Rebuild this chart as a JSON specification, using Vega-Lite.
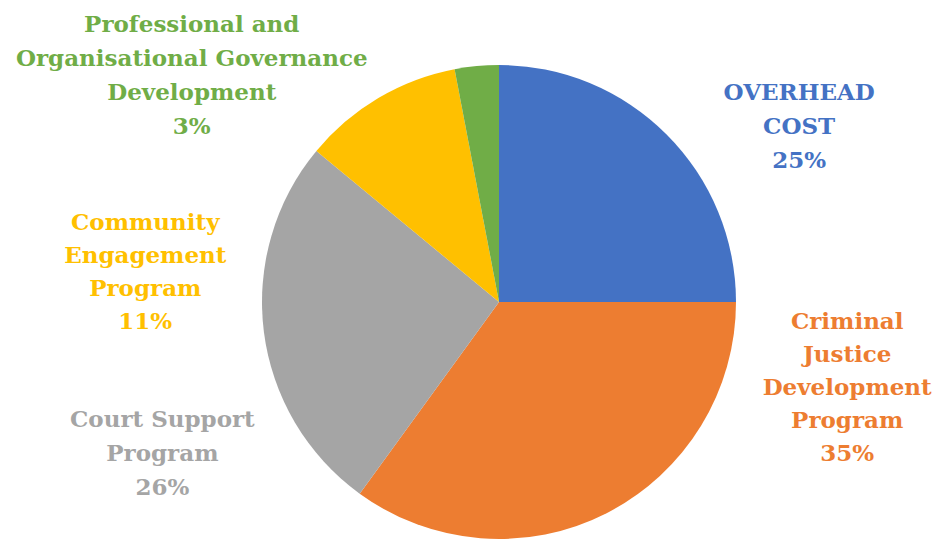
{
  "$schema": "https://vega.github.io/schema/vega-lite/v6.json",
  "width": 890,
  "height": 480,
  "autosize": {"type": "none"},
  "padding": {"left": 54, "top": 62, "right": 0, "bottom": 0},
  "background": "white",
  "config": {"view": {"stroke": null}},
  "data": {
    "values": [
      {"cat": "Overhead", "o": 1, "value": 25, "label": ["OVERHEAD", "COST", "25%"]},
      {"cat": "Criminal", "o": 2, "value": 35, "label": ["Criminal", "Justice", "Development", "Program", "35%"]},
      {"cat": "Court", "o": 3, "value": 26, "label": ["Court Support", "Program", "26%"]},
      {"cat": "Community", "o": 4, "value": 11, "label": ["Community", "Engagement", "Program", "11%"]},
      {"cat": "Professional", "o": 5, "value": 3, "label": ["Professional and", "Organisational Governance", "Development", "3%"]}
    ]
  },
  "encoding": {
    "theta": {"field": "value", "type": "quantitative", "stack": true},
    "order": {"field": "o", "type": "quantitative"},
    "color": {
      "field": "cat",
      "type": "nominal",
      "scale": {
        "domain": ["Overhead", "Criminal", "Court", "Community", "Professional"],
        "range": ["#4472C4", "#ED7D31", "#A5A5A5", "#FFC000", "#70AD47"]
      },
      "legend": null
    }
  },
  "layer": [
    {"mark": {"type": "arc", "outerRadius": 237}},
    {
      "mark": {"type": "text", "radius": 300, "dx": 88, "dy": 3, "font": "DejaVu Serif", "fontWeight": "bold", "fontSize": 23, "lineHeight": 34, "align": "center", "baseline": "middle"},
      "encoding": {"text": {"condition": {"test": "datum.cat === 'Overhead'", "field": "label"}, "value": ""}}
    },
    {
      "mark": {"type": "text", "radius": 300, "dx": 212, "dy": -247, "font": "DejaVu Serif", "fontWeight": "bold", "fontSize": 23, "lineHeight": 33, "align": "center", "baseline": "middle"},
      "encoding": {"text": {"condition": {"test": "datum.cat === 'Criminal'", "field": "label"}, "value": ""}}
    },
    {
      "mark": {"type": "text", "radius": 300, "dx": -39, "dy": 80, "font": "DejaVu Serif", "fontWeight": "bold", "fontSize": 23, "lineHeight": 34, "align": "center", "baseline": "middle"},
      "encoding": {"text": {"condition": {"test": "datum.cat === 'Court'", "field": "label"}, "value": ""}}
    },
    {
      "mark": {"type": "text", "radius": 300, "dx": -201, "dy": 179, "font": "DejaVu Serif", "fontWeight": "bold", "fontSize": 23, "lineHeight": 33, "align": "center", "baseline": "middle"},
      "encoding": {"text": {"condition": {"test": "datum.cat === 'Community'", "field": "label"}, "value": ""}}
    },
    {
      "mark": {"type": "text", "radius": 300, "dx": -279, "dy": 22, "font": "DejaVu Serif", "fontWeight": "bold", "fontSize": 23, "lineHeight": 34, "align": "center", "baseline": "middle"},
      "encoding": {"text": {"condition": {"test": "datum.cat === 'Professional'", "field": "label"}, "value": ""}}
    }
  ]
}
